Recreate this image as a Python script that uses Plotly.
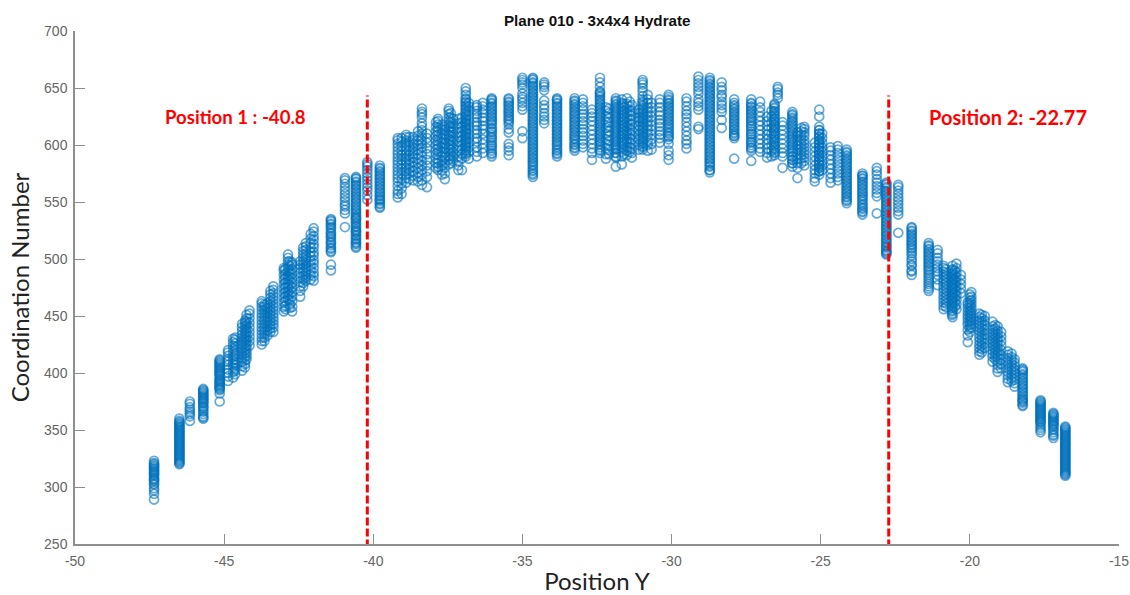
import plotly.graph_objects as go

position_y = [
    -47.35, -46.5, -46.15, -45.7, -45.15, -44.87, -44.63, -44.3, -44.15, -43.74, -43.55, -43.35,
    -43.0, -42.86, -42.72, -42.45, -42.26, -42.0, -41.42, -40.95, -40.58, -40.2, -39.78, -39.18,
    -38.9, -38.67, -38.37, -38.2, -37.83, -37.6, -37.47, -37.33, -37.03, -36.9, -36.8, -36.53,
    -36.33, -36.03, -35.46, -35.0, -34.65, -34.27, -33.84, -33.25, -32.97, -32.67, -32.4, -32.2,
    -31.87, -31.67, -31.5, -31.33, -31.1, -30.97, -30.8, -30.67, -30.4, -30.1, -29.5, -29.1,
    -28.72, -28.32, -27.9, -27.33, -27.03, -26.8, -26.55, -26.44, -26.28, -25.95, -25.78, -25.55,
    -25.2, -25.05, -24.67, -24.43, -24.13, -23.6, -23.12, -22.8, -22.4, -21.95, -21.38, -21.08,
    -20.88, -20.58, -20.45, -20.3, -20.07, -19.95, -19.68, -19.5, -19.24, -19.07, -18.73, -18.5,
    -18.23, -17.63, -17.2, -16.8,
]

c001 = [289, 294, 297, 302, 305, 307, 310, 312, 314, 316, 318, 321, 323]
c002 = [320, 322, 324, 326, 328, 330, 332, 335, 337, 339, 341, 343, 345, 347, 349, 351, 353, 355, 358, 360]
c003 = [358, 362, 364, 366, 368, 370, 373, 375]
c004 = [360, 362, 366, 369, 371, 374, 376, 378, 380, 382, 384, 386]
c005 = [375, 382, 386, 388, 391, 393, 395, 398, 400, 402, 404, 406, 408, 410, 412]
c006 = [393, 397, 400, 403, 407, 410, 412, 415, 418, 420]
c007 = [399, 402, 404, 407, 409, 412, 415, 417, 420, 423, 426, 429, 431]
c008 = [405, 408, 411, 414, 417, 420, 423, 426, 429, 432, 435, 438, 441, 444, 446]
c009 = [424, 428, 432, 436, 440, 444, 448, 452, 455]
c010 = [425, 428, 431, 434, 437, 440, 443, 446, 449, 452, 455, 458, 461, 463]
c011 = [433, 437, 441, 445, 449, 453, 457, 461]
c012 = [436, 440, 443, 446, 449, 452, 455, 458, 461, 464, 467, 470, 473, 476]
c013 = [454, 458, 462, 466, 470, 474, 478, 482, 486, 490, 492]
c014 = [465, 468, 471, 475, 478, 482, 485, 489, 492, 495, 498, 501, 504]
c015 = [454, 458, 463, 467, 471, 475, 479, 483, 487, 491, 495, 497]
c016 = [467, 472, 476, 480, 484, 488, 492, 495, 498]
c017 = [481, 484, 487, 490, 493, 496, 499, 502, 505, 508, 511, 514]
c018 = [481, 485, 488, 492, 496, 499, 503, 506, 510, 513, 517, 520, 524, 527]
c019 = [490, 495, 506, 509, 512, 515, 519, 522, 525, 528, 531, 533, 535]
c020 = [528, 540, 543, 546, 548, 551, 554, 557, 560, 563, 566, 569, 571]
c021 = [510, 513, 515, 518, 521, 524, 526, 529, 532, 535, 537, 540, 543, 546, 549, 552, 555, 558, 561, 564, 567, 570, 572]
c022 = [552, 556, 560, 563, 566, 569, 572, 575, 578, 581, 583, 585]
c023 = [545, 549, 552, 555, 558, 561, 564, 567, 570, 573, 576, 579, 582]
c024 = [554, 557, 560, 564, 568, 571, 574, 577, 580, 583, 586, 589, 592, 595, 598, 601, 604, 606]
c025 = [567, 571, 574, 577, 580, 583, 586, 589, 592, 595, 598, 601, 604, 607, 609]
c026 = [569, 573, 577, 581, 585, 589, 592, 595, 598, 601, 604, 607]
c027 = [565, 569, 574, 578, 582, 586, 590, 594, 598, 601, 604, 607, 610, 613, 616, 619, 624, 627, 629, 632]
c028 = [563, 572, 577, 582, 587, 592, 597, 602, 606, 610]
c029 = [578, 581, 584, 587, 591, 594, 597, 600, 603, 606, 609, 612, 615, 618, 621, 623]
c030 = [570, 575, 580, 584, 589, 593, 597, 601, 605, 609, 613, 616]
c031 = [583, 587, 590, 594, 597, 600, 603, 606, 609, 612, 615, 618, 621, 624, 627, 630, 632]
c032 = [586, 590, 594, 598, 603, 607, 611, 615, 619, 623]
c033 = [578, 588, 592, 596, 600, 604, 608, 612, 616, 620, 624]
c034 = [590, 593, 596, 599, 602, 605, 608, 611, 614, 617, 620, 623, 626, 629, 632, 635, 638, 641, 644, 647, 650]
c035 = [588, 594, 598, 602, 606, 610, 614, 618, 622, 626, 630, 634, 637]
c036 = [590, 594, 598, 603, 606, 610, 613, 617, 620, 624, 627, 630, 633, 635]
c037 = [593, 597, 601, 605, 610, 614, 617, 621, 624, 628, 631, 634, 637]
c038 = [590, 593, 597, 600, 604, 607, 611, 614, 618, 621, 624, 627, 630, 633, 636, 639, 641]
c039 = [591, 595, 598, 601, 611, 614, 620, 623, 626, 629, 632, 635, 638, 641]
c040 = [606, 612, 631, 634, 637, 640, 642, 645, 650, 653, 655, 657, 659]
c041 = [572, 575, 578, 582, 585, 588, 591, 594, 597, 600, 603, 606, 609, 612, 615, 618, 621, 624, 627, 630, 633, 636, 639, 642, 645, 648, 651, 654, 657, 659]
c042 = [619, 622, 625, 628, 632, 635, 639, 648, 651, 653, 655]
c043 = [590, 593, 596, 600, 603, 606, 609, 612, 615, 618, 621, 624, 627, 630, 633, 636, 639, 641]
c044 = [595, 598, 601, 605, 608, 611, 614, 617, 620, 623, 626, 629, 632, 635, 638, 641]
c045 = [598, 601, 604, 608, 611, 614, 618, 621, 624, 627, 631, 634, 637, 640]
c046 = [587, 593, 597, 601, 605, 609, 613, 617, 621, 625, 628, 631]
c047 = [593, 596, 600, 603, 606, 609, 612, 615, 618, 621, 624, 627, 630, 633, 636, 639, 642, 645, 647, 651, 655, 659]
c048 = [588, 592, 597, 601, 605, 610, 615, 620, 625, 630, 633]
c049 = [581, 589, 593, 597, 600, 603, 606, 609, 612, 615, 618, 621, 624, 627, 630, 633, 636, 639, 641]
c050 = [583, 590, 594, 598, 601, 604, 607, 610, 613, 616, 619, 622, 625, 628, 631, 634, 637, 640]
c051 = [591, 595, 598, 602, 605, 609, 612, 616, 620, 624, 628, 632, 636, 641]
c052 = [589, 593, 597, 601, 605, 609, 613, 618, 622, 626, 630, 635]
c053 = [596, 600, 605, 609, 613, 617, 621, 624, 628, 631]
c054 = [596, 599, 602, 605, 608, 611, 614, 617, 620, 623, 626, 629, 632, 635, 638, 643, 647, 650, 653, 655, 657]
c055 = [595, 600, 604, 609, 613, 617, 621, 625, 629, 633, 637, 640, 644]
c056 = [596, 601, 605, 609, 613, 617, 621, 625, 629, 633, 637]
c057 = [602, 606, 609, 612, 616, 619, 622, 626, 629, 633, 637, 640]
c058 = [587, 591, 595, 601, 605, 608, 611, 615, 618, 621, 624, 627, 630, 633, 636, 639, 642, 644]
c059 = [597, 601, 604, 608, 612, 616, 620, 624, 627, 630, 634, 638, 641]
c060 = [614, 616, 631, 634, 637, 640, 645, 648, 651, 654, 657, 660]
c061 = [576, 578, 581, 584, 587, 590, 593, 596, 599, 602, 605, 608, 611, 614, 617, 620, 623, 626, 629, 632, 635, 638, 641, 644, 647, 650, 653, 656, 659]
c062 = [615, 622, 629, 632, 635, 638, 642, 644, 648, 651, 655]
c063 = [588, 606, 608, 610, 613, 616, 619, 622, 625, 628, 631, 634, 637, 640]
c064 = [586, 595, 598, 602, 605, 609, 612, 616, 619, 622, 625, 628, 631, 634, 637, 640]
c065 = [594, 597, 601, 605, 609, 613, 617, 621, 625, 629, 633, 638]
c066 = [589, 593, 597, 601, 605, 609, 613, 617, 621, 625]
c067 = [591, 594, 597, 600, 603, 606, 609, 612, 615, 618, 621, 624, 627, 630, 633, 636]
c068 = [641, 644, 646, 649, 651]
c069 = [580, 590, 593, 597, 601, 605, 609, 613, 617, 620]
c070 = [581, 584, 587, 590, 594, 597, 600, 603, 606, 609, 612, 615, 618, 621, 624, 627, 629]
c071 = [571, 580, 584, 588, 592, 596, 600, 604, 608, 611]
c072 = [582, 586, 589, 592, 595, 598, 601, 604, 608, 611, 614, 616]
c073 = [568, 571, 575, 578, 582, 586, 590, 594, 598, 602]
c074 = [574, 577, 580, 583, 586, 589, 592, 595, 598, 601, 604, 607, 610, 613, 616, 625, 631]
c075 = [567, 571, 575, 579, 583, 587, 591, 595, 598]
c076 = [569, 572, 575, 578, 581, 584, 587, 590, 593, 596, 599]
c077 = [549, 551, 554, 557, 560, 563, 566, 569, 572, 575, 578, 581, 584, 587, 590, 593, 596]
c078 = [539, 542, 545, 548, 552, 555, 558, 561, 564, 567, 570, 573, 575]
c079 = [540, 555, 558, 561, 564, 567, 570, 574, 577, 580]
c080 = [504, 506, 508, 511, 514, 517, 520, 523, 526, 529, 532, 535, 538, 541, 544, 547, 550, 553, 556, 559, 562, 565, 567]
c081 = [523, 539, 542, 545, 548, 551, 554, 557, 560, 563, 565]
c082 = [486, 489, 494, 498, 503, 507, 510, 513, 516, 519, 522, 525, 528]
c083 = [472, 476, 480, 484, 488, 491, 494, 497, 500, 503, 506, 509, 512, 514]
c084 = [477, 482, 486, 489, 492, 495, 498, 501, 505, 508]
c085 = [456, 459, 462, 465, 468, 471, 474, 477, 480, 483, 486, 489, 492, 494]
c086 = [449, 452, 455, 458, 461, 464, 467, 470, 473, 476, 479, 482, 485, 488, 491, 494]
c087 = [456, 460, 464, 468, 472, 476, 480, 484, 488, 492, 496]
c088 = [470, 474, 478, 482, 486]
c089 = [427, 433, 438, 442, 445, 448, 451, 454, 457, 460, 462]
c090 = [440, 443, 446, 449, 452, 455, 458, 461, 464, 467, 471]
c091 = [416, 419, 422, 425, 428, 431, 434, 437, 440, 443, 446, 449, 452]
c092 = [422, 426, 430, 434, 438, 442, 446, 450]
c093 = [410, 414, 417, 420, 423, 426, 429, 432, 435, 438, 441, 445]
c094 = [401, 404, 407, 410, 413, 416, 419, 422, 425, 428, 431, 434, 437, 441]
c095 = [392, 395, 398, 401, 404, 407, 410, 413, 416, 419]
c096 = [388, 391, 394, 397, 400, 403, 406, 409, 412]
c097 = [371, 374, 376, 378, 381, 384, 387, 390, 393, 396, 399, 402, 404]
c098 = [348, 352, 356, 358, 360, 362, 364, 366, 368, 370, 372, 374, 376]
c099 = [343, 346, 350, 353, 355, 357, 359, 361, 363, 365]
c100 = [310, 312, 314, 316, 318, 320, 322, 324, 327, 330, 333, 335, 337, 339, 341, 343, 345, 347, 349, 351, 353]

coordination_columns = [
    c001, c002, c003, c004, c005, c006, c007, c008, c009, c010, c011, c012, c013, c014, c015, c016, c017, c018, c019, c020,
    c021, c022, c023, c024, c025, c026, c027, c028, c029, c030, c031, c032, c033, c034, c035, c036, c037, c038, c039, c040,
    c041, c042, c043, c044, c045, c046, c047, c048, c049, c050, c051, c052, c053, c054, c055, c056, c057, c058, c059, c060,
    c061, c062, c063, c064, c065, c066, c067, c068, c069, c070, c071, c072, c073, c074, c075, c076, c077, c078, c079, c080,
    c081, c082, c083, c084, c085, c086, c087, c088, c089, c090, c091, c092, c093, c094, c095, c096, c097, c098, c099, c100,
]

dense_position_y = [
    -47.35, -46.5, -45.7, -45.15, -44.7, -44.4, -44.25, -43.65, -43.45, -42.95, -42.8, -42.35, -42.1, -41.42, -40.58, -39.78,
    -39.05, -38.8, -38.5, -37.9, -37.7, -37.4, -37.15, -36.9, -36.03, -35.46, -34.65, -33.84, -33.25, -32.4, -32.1, -31.87,
    -31.6, -31.4, -30.97, -30.1, -28.72, -27.9, -27.33, -26.55, -26.65, -25.95, -25.65, -25.05, -24.95, -24.13, -23.6, -22.8,
    -21.95, -21.38, -20.8, -20.6, -20.5, -20.0, -19.6, -19.15, -18.95, -18.6, -18.23, -17.63, -16.8, -17.2,
]

e01 = [299, 303, 306, 308, 311, 313, 315, 317, 319, 320]
e02 = [321, 323, 325, 327, 329, 331, 333, 334, 336, 338, 340, 342, 344, 346, 348, 350, 352, 354, 356, 357]
e03 = [361, 364, 367, 370, 373, 375, 377, 379, 381, 383, 385]
e04 = [385, 387, 389, 390, 392, 394, 397, 399, 401, 403, 405, 407, 409, 411]
e05 = [396, 401, 405, 408, 411, 414, 418, 421, 424, 427, 430]
e06 = [402, 406, 410, 413, 416, 419, 422, 425, 428, 431, 434, 437, 440, 443]
e07 = [412, 415, 418, 421, 424, 427, 430, 433, 436, 439, 442, 445, 448, 451]
e08 = [428, 431, 434, 437, 440, 443, 446, 449, 452, 455, 458, 460]
e09 = [436, 439, 442, 445, 448, 451, 454, 457, 460, 463, 466, 469, 472]
e10 = [456, 459, 463, 467, 471, 475, 479, 483, 487, 491]
e11 = [457, 460, 464, 469, 473, 477, 481, 484, 487, 490, 494, 498]
e12 = [476, 479, 482, 485, 489, 492, 495, 498, 501, 504, 507, 510]
e13 = [482, 486, 490, 494, 498, 502, 506, 510, 514, 518, 522]
e14 = [507, 510, 514, 517, 520, 523, 527, 530, 534]
e15 = [511, 514, 517, 520, 523, 525, 528, 531, 534, 536, 538, 541, 544, 547, 550, 553, 556, 559, 562, 565, 568, 571]
e16 = [546, 548, 551, 553, 556, 559, 562, 565, 568, 571, 574, 577, 580]
e17 = [557, 562, 566, 570, 575, 579, 583, 587, 591, 595, 599, 603, 606]
e18 = [570, 575, 579, 583, 587, 591, 595, 599, 603, 607]
e19 = [568, 572, 576, 580, 584, 588, 592, 596, 600, 604, 608, 612]
e20 = [580, 584, 588, 592, 596, 600, 604, 608, 612, 616, 620]
e21 = [574, 578, 582, 586, 590, 594, 598, 602, 606, 610, 614, 618]
e22 = [584, 588, 592, 596, 600, 604, 608, 612, 616, 620, 624, 628]
e23 = [578, 582, 586, 590, 595, 599, 603, 607, 611, 615, 619, 623]
e24 = [592, 595, 598, 601, 604, 607, 610, 613, 616, 619, 622, 625, 628, 631, 634, 637, 640]
e25 = [592, 595, 599, 602, 606, 609, 612, 615, 619, 622, 625, 628, 631, 634, 637, 640]
e26 = [618, 622, 625, 628, 631, 634, 637, 640]
e27 = [574, 577, 580, 583, 586, 589, 592, 595, 598, 601, 604, 607, 610, 613, 616, 619, 622, 625, 628, 631, 634, 637, 640, 643, 646, 649, 652, 655, 658]
e28 = [592, 595, 598, 601, 604, 607, 610, 613, 616, 619, 622, 625, 628, 631, 634, 637, 640]
e29 = [597, 600, 603, 606, 609, 612, 615, 618, 621, 624, 627, 630, 633, 636, 639]
e30 = [595, 598, 601, 604, 607, 610, 613, 616, 619, 622, 625, 628, 631, 634, 637, 640, 643, 646]
e31 = [592, 596, 600, 604, 608, 612, 616, 620, 624, 628, 632]
e32 = [590, 593, 596, 599, 602, 605, 608, 611, 614, 617, 620, 623, 626, 629, 632, 635, 638]
e33 = [592, 596, 600, 603, 606, 609, 612, 615, 618, 621, 624, 627, 630, 633, 636]
e34 = [594, 598, 602, 606, 610, 614, 618, 622, 626, 630, 634, 638]
e35 = [598, 601, 604, 607, 610, 613, 616, 619, 622, 625, 628, 631, 634, 637, 640]
e36 = [607, 610, 613, 616, 619, 622, 625, 628, 631, 634, 637, 640]
e37 = [578, 582, 585, 588, 591, 594, 597, 600, 603, 606, 609, 612, 615, 618, 621, 624, 627, 630, 633, 636, 639, 642, 645, 648, 651, 654, 657]
e38 = [608, 611, 614, 617, 620, 623, 626, 629, 632, 635]
e39 = [597, 600, 603, 607, 610, 614, 617, 621, 624, 627, 630, 633, 636]
e40 = [593, 596, 599, 602, 605, 608, 611, 614, 617, 620, 623, 626, 629, 632, 635]
e41 = [590, 595, 600, 605, 610, 615, 620, 625, 630]
e42 = [584, 587, 590, 593, 596, 599, 602, 605, 608, 611, 614, 617, 620, 623, 626]
e43 = [584, 588, 591, 594, 597, 600, 603, 606, 609, 612, 615]
e44 = [577, 580, 583, 586, 589, 592, 595, 598, 601, 604, 607, 610, 613]
e45 = [578, 582, 586, 590, 594, 598, 602, 606, 610]
e46 = [552, 555, 558, 561, 564, 567, 570, 573, 576, 579, 582, 585, 588, 591, 594]
e47 = [541, 544, 547, 550, 553, 556, 559, 562, 565, 568, 571, 573]
e48 = [505, 507, 510, 512, 515, 518, 521, 524, 527, 530, 533, 536, 539, 542, 545, 548, 551, 554, 557, 560, 563, 566]
e49 = [490, 495, 500, 505, 509, 512, 515, 518, 521, 524, 527]
e50 = [474, 478, 482, 486, 490, 493, 496, 499, 502, 505, 508, 511]
e51 = [458, 461, 464, 467, 470, 473, 476, 479, 482, 485, 488, 491]
e52 = [451, 454, 457, 460, 463, 466, 469, 472, 475, 478, 481, 484, 487, 490]
e53 = [458, 462, 466, 470, 474, 478, 482, 486, 490]
e54 = [436, 439, 442, 445, 448, 451, 454, 457, 460, 463, 466, 469]
e55 = [418, 421, 424, 427, 430, 433, 436, 439, 442, 445, 448, 451]
e56 = [412, 415, 418, 421, 424, 427, 430, 433, 436, 439, 442]
e57 = [404, 408, 412, 416, 420, 424, 428, 432, 436]
e58 = [393, 396, 399, 402, 405, 408, 411, 414, 417]
e59 = [372, 375, 377, 380, 383, 386, 389, 392, 395, 398, 401, 403]
e60 = [350, 354, 357, 359, 361, 363, 365, 367, 369, 371, 373, 375]
e61 = [311, 313, 315, 317, 319, 321, 323, 325, 326, 328, 329, 331, 332, 334, 336, 338, 340, 342, 344, 346, 348, 350, 352]
e62 = [345, 348, 351, 354, 356, 358, 360, 362, 364]

dense_columns = [
    e01, e02, e03, e04, e05, e06, e07, e08, e09, e10, e11, e12, e13, e14, e15, e16,
    e17, e18, e19, e20, e21, e22, e23, e24, e25, e26, e27, e28, e29, e30, e31, e32,
    e33, e34, e35, e36, e37, e38, e39, e40, e41, e42, e43, e44, e45, e46, e47, e48,
    e49, e50, e51, e52, e53, e54, e55, e56, e57, e58, e59, e60, e61, e62,
]

line_positions = [-40.2, -22.72]
line_span = [247, 643.5]
x_ticks = [-50, -45, -40, -35, -30, -25, -20, -15]
x_tick_labels = ["-50", "-45", "-40", "-35", "-30", "-25", "-20", "-15"]
y_ticks = [250, 300, 350, 400, 450, 500, 550, 600, 650, 700]
label_1 = "Position 1 : -40.8"
label_2 = "Position 2: -22.77"

xs, ys = [], []
for px, col in zip(position_y + dense_position_y, coordination_columns + dense_columns):
    xs.extend([px] * len(col))
    ys.extend(col)

fig = go.Figure()
fig.add_trace(go.Scatter(
    x=xs, y=ys, mode="markers", showlegend=False, cliponaxis=False,
    marker=dict(symbol="circle-open", size=9, color="rgba(0,114,189,0.6)", line=dict(width=1.7)),
))
for p in line_positions:
    fig.add_trace(go.Scatter(
        x=[p, p], y=line_span, mode="lines", showlegend=False, cliponaxis=False,
        line=dict(color="#ff0000", width=3, dash="8px,3px"),
    ))

fig.update_layout(
    width=1130, height=595, autosize=False,
    margin=dict(l=75, r=11, t=31, b=50.5),
    paper_bgcolor="white", plot_bgcolor="white",
    title=dict(text="<b>Plane 010 - 3x4x4 Hydrate</b>", x=0.5285, y=0.966, xanchor="center", yanchor="middle",
               font=dict(family="Liberation Sans", size=15.2, color="#111111")),
    annotations=[
        dict(text="<b>%s</b>" % label_1, x=-44.63, y=624.7, xref="x", yref="y", showarrow=False,
             font=dict(family="Lato", size=18.6, color="#ff0000")),
        dict(text="<b>%s</b>" % label_2, x=-18.73, y=624.7, xref="x", yref="y", showarrow=False,
             font=dict(family="Lato", size=20, color="#ff0000")),
    ],
)
axis_common = dict(
    automargin=False, showgrid=False, zeroline=False, showline=True, linecolor="#8f8f8f", linewidth=1.5,
    ticks="inside", ticklen=10, tickwidth=1, tickcolor="#8f8f8f", ticklabelstandoff=3,
    tickfont=dict(family="Liberation Sans", size=14, color="#666666"),
)
fig.update_xaxes(range=[-50, -15], tickvals=x_ticks, ticktext=x_tick_labels, title=dict(text="Position Y", standoff=9,
                 font=dict(family="Lato", size=24, color="#222222")), **axis_common)
fig.update_yaxes(range=[250, 700], tickvals=y_ticks, title=dict(text="Coordination Number\u00a0\u00a0\u00a0", standoff=8,
                 font=dict(family="Lato", size=24, color="#222222")), **axis_common)

fig.write_html("out.html", config={"displayModeBar": False}, post_script="document.body.style.margin='0';")
